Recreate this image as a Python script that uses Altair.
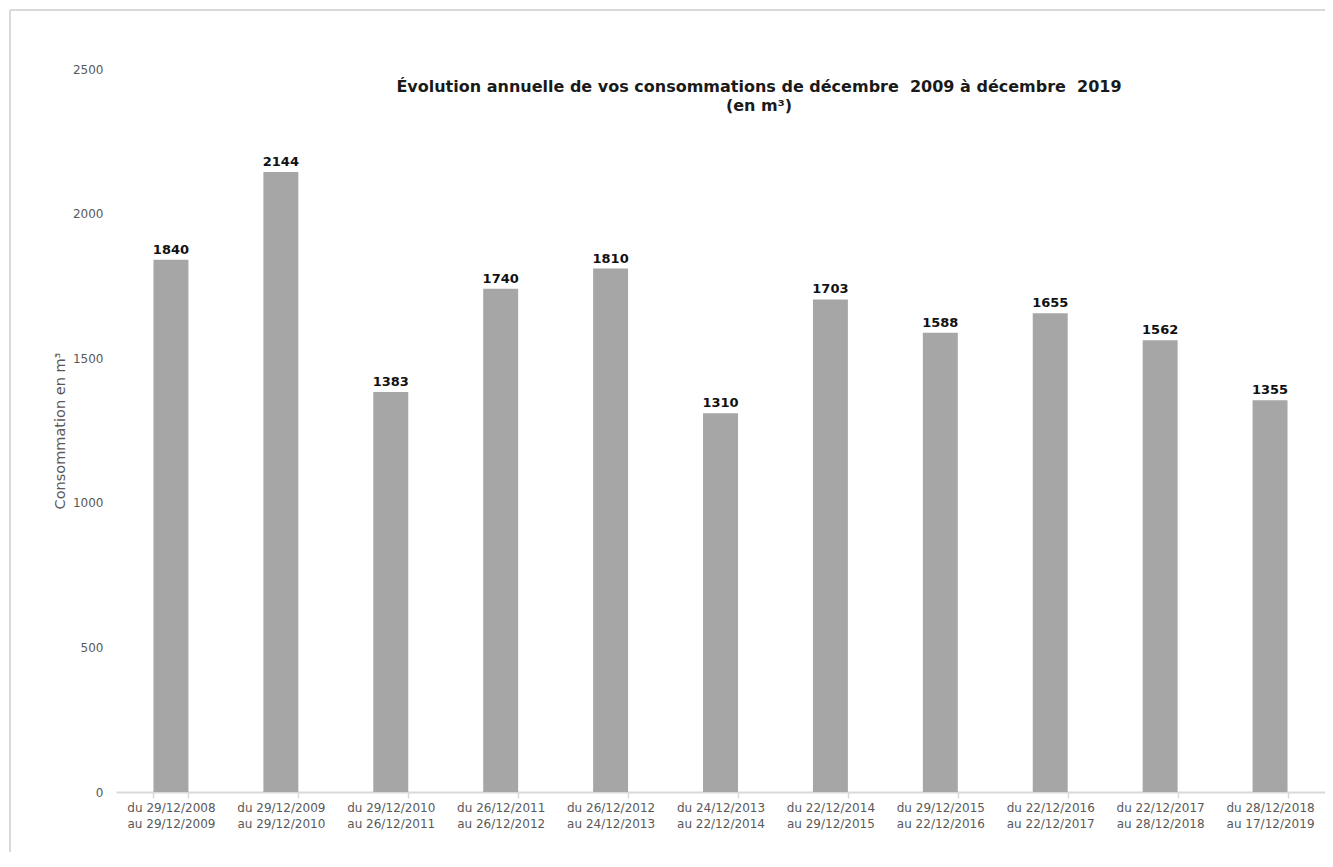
import altair as alt
import pandas as pd

debut = ["29/12/2008", "29/12/2009", "29/12/2010", "26/12/2011", "26/12/2012", "24/12/2013",
         "22/12/2014", "29/12/2015", "22/12/2016", "22/12/2017", "28/12/2018"]
fin = ["29/12/2009", "29/12/2010", "26/12/2011", "26/12/2012", "24/12/2013", "22/12/2014",
       "29/12/2015", "22/12/2016", "22/12/2017", "28/12/2018", "17/12/2019"]
consommation = [1840, 2144, 1383, 1740, 1810, 1310, 1703, 1588, 1655, 1562, 1355]

titre = ["Évolution annuelle de vos consommations de décembre\u00a0 2009 à décembre\u00a0 2019", "(en m³)"]
titre_axe_y = "Consommation en m³"

periodes = [f"du {d}|au {f}" for d, f in zip(debut, fin)]
df = pd.DataFrame({"periode": periodes, "conso": consommation})

W, H = 1209, 723
GRIS = "#595959"

x_enc = alt.X(
    "periode:N", sort=periodes, title=None,
    scale=alt.Scale(paddingInner=0.682, paddingOuter=0.341),
    axis=alt.Axis(
        labelExpr="split(datum.label, '|')", labelAngle=0, labelFont="DejaVu Sans",
        labelFontSize=12, labelColor=GRIS, labelLineHeight=16, labelPadding=4,
        domainColor="#d9d9d9", domainWidth=2, tickColor="#d9d9d9", tickWidth=1.5,
        tickSize=6, tickBand="extent", labelBaseline="top",
    ),
)
y_enc = alt.Y(
    "conso:Q", title=titre_axe_y,
    scale=alt.Scale(domain=[0, 2500], nice=False),
    axis=alt.Axis(
        values=[0, 500, 1000, 1500, 2000, 2500], format="d", grid=False, domain=False, ticks=False,
        labelFont="DejaVu Sans", labelFontSize=12, labelColor=GRIS, labelPadding=13,
        titleFont="DejaVu Sans", titleFontSize=14.5, titleFontWeight="normal",
        titleColor=GRIS, titlePadding=5,
    ),
)

base = alt.Chart(df)
bars = base.mark_bar(color="#a6a6a6").encode(x=x_enc, y=y_enc)
labels = base.mark_text(
    baseline="bottom", dy=-3, font="DejaVu Sans", fontSize=13, fontWeight="bold", color="#111111"
).encode(x=alt.X("periode:N", sort=periodes), y="conso:Q", text="conso:Q")

one = pd.DataFrame({"k": [0]})
title_layer = alt.Chart(one).mark_text(
    text=titre, align="center", baseline="top", font="DejaVu Sans", fontSize=16,
    fontWeight="bold", color="#1a1a1a", lineHeight=19,
).encode(x=alt.value(643), y=alt.value(10))

frame_top = alt.Chart(one).mark_rule(color="#d9d9d9", strokeWidth=2).encode(
    x=alt.value(-106), x2=alt.value(W + 10), y=alt.value(-59)
)
frame_left = alt.Chart(one).mark_rule(color="#d9d9d9", strokeWidth=2).encode(
    x=alt.value(-106), y=alt.value(-59), y2=alt.value(H + 70)
)

chart = alt.layer(frame_top, frame_left, bars, labels, title_layer).properties(
    width=W, height=H,
    background="white",
    autosize=alt.AutoSizeParams(type="none"),
    padding={"left": 108, "top": 61, "right": 0, "bottom": 60},
).configure_view(stroke=None, strokeWidth=0)

chart.save("out.html", embed_options={"renderer": "svg", "actions": False})
